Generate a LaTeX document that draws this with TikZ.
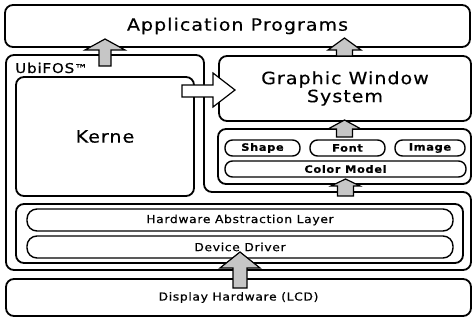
\documentclass[tikz,border=0pt]{standalone}
\usepackage{fontspec}
\setmainfont{DejaVu Sans}[LetterSpace=6, FakeStretch=1.12, FakeBold=0.4]
\tikzset{
  box/.style={draw, line width=1.8pt, rounded corners=8pt, inner sep=0pt, align=center},
  pill/.style={draw, line width=1.4pt, rounded corners=7.5pt, inner sep=0pt},
  blk/.style={draw, line width=1.2pt, fill=gray!45, line join=miter},
  wblk/.style={draw, line width=1.2pt, fill=white, line join=miter},
  big/.style={font=\fontsize{17}{18}\selectfont},
  mid/.style={font=\fontsize{11}{13}\selectfont},
  pilltxt/.style={font=\bfseries\fontsize{10.2}{12}\selectfont},
}
\newcommand\blkup[6]{% cx, shaft half, head half, tip y, base y, bottom y
  \draw[blk] (#1-#2,#6) -- (#1-#2,#5) -- (#1-#3,#5) -- (#1,#4) -- (#1+#3,#5) -- (#1+#2,#5) -- (#1+#2,#6) -- cycle;}
\begin{document}
\begin{tikzpicture}[x=1pt,y=-1pt]
\useasboundingbox (0,0) rectangle (473,320);
\fill[white] (0,0) rectangle (473,320);
% boxes
\node[box, big, minimum width=465pt, minimum height=42pt] (app) at (237.5,26) {Application Programs};
\draw[line width=1.8pt, rounded corners=8pt] (6,150) -- (6,55) -- (204,55) -- (204,192) -- (471,192) -- (471,270) -- (6,270) -- cycle;
\node[anchor=base west, inner sep=0pt, font=\fontsize{13.5}{14}\selectfont] (ubi) at (15,73) {UbiFOS{\fontsize{12}{12}\selectfont™}};
\node[box, big, minimum width=178pt, minimum height=119pt] (kerne) at (105,136.5) {Kerne};
\node[box, big, minimum width=252pt, minimum height=65pt] (gws) at (345,88.5) {Graphic Window\\System};
\node[box, minimum width=253pt, minimum height=55pt] (cont) at (344.5,156.5) {};
\node[pill, pilltxt, minimum width=75pt, minimum height=16pt] (shape) at (262.5,148) {Shape};
\node[pill, pilltxt, minimum width=75pt, minimum height=16pt] (fnt) at (347.5,148) {Font};
\node[pill, pilltxt, minimum width=70pt, minimum height=16pt] (image) at (430,148) {Image};
\node[pill, pilltxt, minimum width=241pt, minimum height=16pt] (color) at (345.5,169) {Color Model};
\node[box, minimum width=447pt, minimum height=59pt] (halc) at (239.5,233.5) {};
\node[pill, mid, rounded corners=10pt, minimum width=426pt, minimum height=22pt] (hal) at (240,220) {Hardware Abstraction Layer};
\node[pill, mid, rounded corners=10pt, minimum width=426pt, minimum height=22pt] (dd) at (240,247) {Device Driver};
\node[box, mid, minimum width=465pt, minimum height=37pt] (disp) at (238.5,297.5) {Display Hardware (LCD)};
% block arrows
\blkup{105}{6}{20}{39}{50}{66}
\blkup{344.5}{8}{16.5}{38}{50}{56}
\blkup{344.5}{8}{16.5}{120}{129}{137}
\blkup{345.5}{8}{14.5}{179}{186}{196}
\blkup{240}{7}{20}{252}{268}{288}
\draw[wblk] (182,85) -- (213,85) -- (213,73) -- (235,90) -- (213,107) -- (213,97) -- (182,97) -- cycle;
\end{tikzpicture}
\end{document}
